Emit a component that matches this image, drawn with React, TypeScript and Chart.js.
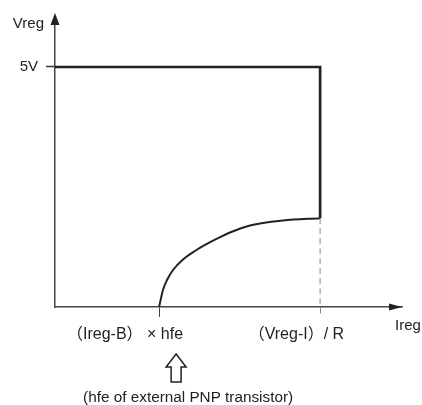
import { useEffect, useRef } from "react";
import { Chart, registerables } from "chart.js";

Chart.register(...registerables);

// ---- data ----
const xTickValues = [30, 76.4];
const xTickLabels = ["（Ireg-B） × hfe", "（Vreg-I）/ R"];
const yTickValues = [5];
const yTickLabels = ["5V"];
const limitX = [0, 76.4, 76.4];
const limitY = [5, 5, 1.85];
const curveX = [30, 31.12, 32.28, 34.01, 36.89, 40.35, 43.23, 46.11, 50.43, 56.2, 65.71, 76.4];
const curveY = [0, 0.354, 0.5625, 0.771, 0.99, 1.167, 1.292, 1.402, 1.552, 1.698, 1.802, 1.85];
const dashX = [76.4, 76.4];
const dashY = [1.85, 0];
const xAxisTitle = "Ireg";
const yAxisTitle = "Vreg";
const noteText = "(hfe of external PNP transistor)";

const FONT = '"Liberation Sans", Arial, "Noto Sans CJK JP", sans-serif';
const INK = "#222";

const toPts = (xs: number[], ys: number[]) => xs.map((x, i) => ({ x, y: ys[i] }));

const overlay = {
  id: "overlay",
  afterDraw(chart: any) {
    const { ctx, chartArea: a, scales } = chart;
    ctx.save();
    ctx.fillStyle = INK;
    ctx.strokeStyle = INK;
    // y axis arrow head
    ctx.beginPath();
    ctx.moveTo(a.left, a.top - 6);
    ctx.lineTo(a.left - 4.5, a.top + 6);
    ctx.lineTo(a.left + 4.5, a.top + 6);
    ctx.closePath();
    ctx.fill();
    // x axis arrow head
    ctx.beginPath();
    ctx.moveTo(a.right, a.bottom);
    ctx.lineTo(a.right - 13, a.bottom - 3.5);
    ctx.lineTo(a.right - 13, a.bottom + 3.5);
    ctx.closePath();
    ctx.fill();
    // axis titles
    ctx.font = "15px " + FONT;
    ctx.textBaseline = "alphabetic";
    ctx.textAlign = "right";
    ctx.fillText(yAxisTitle, a.left - 11, a.top + 9);
    ctx.textAlign = "left";
    ctx.fillText(xAxisTitle, a.right - 7, a.bottom + 23);
    // hollow up arrow
    const cx = scales.x.getPixelForValue(xTickValues[0]) + 17;
    const t = a.bottom + 47;
    const hb = a.bottom + 60;
    const b = a.bottom + 75;
    ctx.lineWidth = 1.5;
    ctx.lineJoin = "miter";
    ctx.beginPath();
    ctx.moveTo(cx, t);
    ctx.lineTo(cx + 10, hb);
    ctx.lineTo(cx + 5, hb);
    ctx.lineTo(cx + 5, b);
    ctx.lineTo(cx - 5, b);
    ctx.lineTo(cx - 5, hb);
    ctx.lineTo(cx - 10, hb);
    ctx.closePath();
    ctx.stroke();
    // note
    ctx.font = "15.3px " + FONT;
    ctx.textAlign = "center";
    ctx.fillText(noteText, cx + 12, a.bottom + 95);
    ctx.restore();
  },
};

export default function App() {
  const ref = useRef<HTMLCanvasElement | null>(null);
  useEffect(() => {
    if (!ref.current) return;
    const chart = new Chart(ref.current, {
      type: "scatter",
      data: {
        datasets: [
          {
            data: toPts(dashX, dashY),
            showLine: true,
            borderColor: "#8a8a8a",
            borderWidth: 1,
            borderDash: [6, 4],
            pointRadius: 0,
          },
          {
            data: toPts(curveX, curveY),
            showLine: true,
            borderColor: INK,
            borderWidth: 2,
            cubicInterpolationMode: "monotone",
            pointRadius: 0,
          },
          {
            data: toPts(limitX, limitY),
            showLine: true,
            borderColor: INK,
            borderWidth: 2.7,
            borderJoinStyle: "miter",
            pointRadius: 0,
          },
        ],
      } as any,
      options: {
        animation: false,
        responsive: false,
        devicePixelRatio: 1,
        layout: { padding: { left: 0, top: 19, right: 20, bottom: 0 } },
        plugins: { legend: { display: false }, tooltip: { enabled: false } },
        scales: {
          x: {
            type: "linear",
            min: 0,
            max: 100,
            afterFit: (s: any) => {
              s.height = 98;
            },
            afterBuildTicks: (s: any) => {
              s.ticks = xTickValues.map((v) => ({ value: v }));
            },
            border: { display: true, color: "#444", width: 1.5 },
            grid: {
              display: true,
              drawOnChartArea: false,
              drawTicks: true,
              tickLength: 10,
              tickWidth: 1,
              tickColor: (c: any) => (c.index === 1 ? "#8a8a8a" : "#444"),
              tickBorderDash: (c: any) => (c.index === 1 ? [6, 4] : []),
            } as any,
            ticks: {
              autoSkip: false,
              maxRotation: 0,
              align: "end",
              labelOffset: 24,
              padding: 8,
              color: INK,
              font: { size: 16, family: FONT },
              callback: (_v: any, i: number) => xTickLabels[i],
            },
          },
          y: {
            type: "linear",
            min: 0,
            max: 6,
            afterFit: (s: any) => {
              s.width = 55;
            },
            afterBuildTicks: (s: any) => {
              s.ticks = yTickValues.map((v) => ({ value: v }));
            },
            border: { display: true, color: "#444", width: 1.5 },
            grid: {
              display: true,
              drawOnChartArea: false,
              drawTicks: true,
              tickLength: 9,
              tickWidth: 1.5,
              tickColor: "#333",
            },
            ticks: {
              padding: 8,
              color: INK,
              font: { size: 15, family: FONT },
              callback: (_v: any, i: number) => yTickLabels[i],
            },
          },
        },
      } as any,
      plugins: [overlay],
    });
    return () => chart.destroy();
  }, []);
  return (
    <div style={{ position: "absolute", left: 0, top: 0, width: 422, height: 405, background: "#fff" }}>
      <canvas ref={ref} width={422} height={405} />
    </div>
  );
}
